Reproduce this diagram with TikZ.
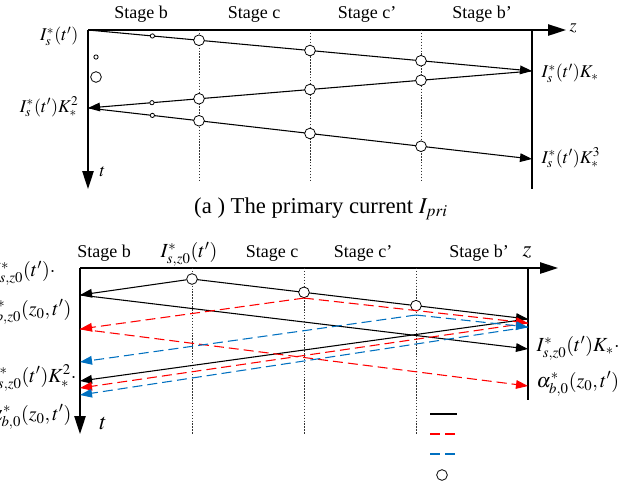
\documentclass[tikz,border=0pt]{standalone}
\usepackage{mathptmx}
\usepackage{fontspec}
\setmainfont{Liberation Serif}
\usetikzlibrary{arrows.meta,calc}
\definecolor{blauton}{RGB}{0,112,192}

\begin{document}
\begin{tikzpicture}[x=0.75pt,y=-0.75pt,
  achse/.style={line width=1.2pt,-{Triangle[length=13.5pt,width=8.5pt]}},
  welle/.style={line width=0.8pt,-{Triangle[length=9pt,width=6.5pt]}},
  rotwelle/.style={welle,red,dash pattern=on 7.5pt off 3.75pt},
  blauwelle/.style={welle,blauton,dash pattern=on 7.5pt off 3.75pt},
  grenze/.style={line width=0.7pt,black!80,dash pattern=on 1.1pt off 1.1pt},
  kreis/.style={circle,draw,fill=white,inner sep=0pt,minimum size=8pt,line width=0.6pt},
  punkt/.style={circle,draw,fill=white,inner sep=0pt,minimum size=3.2pt,line width=0.6pt},
  txt/.style={font=\fontsize{13.5}{15}\selectfont,inner sep=1pt},
  mtxt/.style={font=\fontsize{15}{17}\selectfont,inner sep=1pt},
  gross/.style={font=\fontsize{17}{19}\selectfont,inner sep=1pt}]

\useasboundingbox (0,0) rectangle (639,487);

% ------------------- Obere Abbildung -------------------
\coordinate (o1) at (88,30);
\coordinate (z1) at (566,30);
\coordinate (t1) at (88,189);
\coordinate (r1o) at (532,30);
\coordinate (r1u) at (532,189);

% Achsen
\draw[achse] (o1) -- (z1);
\draw[achse] (o1) -- (t1);
\draw[line width=1.2pt] (r1o) -- (r1u);
\node[txt,anchor=west] (zl1) at (568,28) {$z$};
\node[txt,anchor=west] (tl1) at (98,172) {$t$};

% Stufengrenzen
\foreach \x/\n in {199/1,310/2,421/3} {
  \coordinate (go\n) at (\x,30);
  \coordinate (gu\n) at (\x,180);
  \draw[grenze] (go\n) -- (gu\n);
}
\foreach \x/\s/\n in {141/b/1,254/c/2,367/c’/3,482/b’/4}
  \node[txt] (st\n) at (\x,14) {Stage \s};

% Wellen
\coordinate (p1) at (532,71);
\coordinate (q1) at (88,108);
\coordinate (p2) at (532,159);
\draw[welle] (o1) -- node[punkt,pos=.145] (k1) {} node[kreis,pos=.25] (a1) {}
  node[kreis,pos=.5] (a2) {} node[kreis,pos=.75] (a3) {} (p1);
\draw[welle] (p1) -- node[kreis,pos=.25] (a4) {} node[kreis,pos=.5] (a5) {}
  node[kreis,pos=.75] (a6) {} node[punkt,pos=.856] (k2) {} (q1);
\draw[welle] (q1) -- node[punkt,pos=.145] (k3) {} node[kreis,pos=.25] (a7) {}
  node[kreis,pos=.5] (a8) {} node[kreis,pos=.75] (a9) {} (p2);

% Zeichen links
\node[punkt] (lk1) at (96,57) {};
\node[kreis] (lk2) at (96,77) {};

% Beschriftung
\node[txt,anchor=east] (i1) at (80,36) {$I_s^*(t')$};
\node[txt,anchor=east] (i2) at (80,107) {$I_s^*(t')K_*^2$};
\node[txt,anchor=west] (i3) at (540,73) {$I_s^*(t')K_*$};
\node[txt,anchor=west] (i4) at (540,158) {$I_s^*(t')K_*^3$};

\node[font=\fontsize{17}{19}\selectfont] (titel) at (321,209)
  {(a ) The primary current $I_{pri}$};

% ------------------- Untere Abbildung -------------------
\coordinate (o2) at (80,268);
\coordinate (z2) at (558,268);
\coordinate (t2) at (80,434);
\coordinate (r2o) at (528,268);
\coordinate (r2u) at (528,400);

% Achsen
\draw[achse] (o2) -- (z2);
\draw[achse] (o2) -- (t2);
\draw[line width=1.2pt] (r2o) -- (r2u);
\node[gross] (zl2) at (527,252) {$z$};
\node[gross] (tl2) at (103,423) {$t$};

% Stufengrenzen
\foreach \x/\n in {192/1,304/2,416/3} {
  \coordinate (ho\n) at (\x,268);
  \coordinate (hu\n) at (\x,435);
  \draw[grenze] (ho\n) -- (hu\n);
}
\foreach \x/\s/\n in {104/b/1,272/c/2,363/c’/3,479/b’/4}
  \node[txt] (su\n) at (\x,253) {Stage \s};
\node[mtxt] (quelle) at (189,254) {$I^*_{s,z0}(t')$};

% Endpunkte
\coordinate (m1) at (192,279);
\coordinate (s3) at (416,315);
\foreach \y/\n in {295/1,329/2,362/3,381/4,388/5,395/6}
  \coordinate (l\n) at (80,\y);
\foreach \y/\n in {319/1,323/2,327/3,349/4,386/5}
  \coordinate (e\n) at (528,\y);

% Wellen
\draw[welle] (m1) -- node[kreis,pos=1/3] (b2) {} node[kreis,pos=2/3] (b3) {} (e1);
\node[kreis] (b1) at (m1) {};
\draw[welle] (b1) -- (l1);
\draw[welle] (l1) -- (e4);
\draw[welle] (e1) -- (l4);

\draw[rotwelle] (b2.south) -- (l2);
\draw[rotwelle] (b2.south) -- (e2);
\draw[rotwelle] (l2) -- (e5);
\draw[rotwelle] (e2) -- (l5);

\draw[blauwelle] (s3) -- (l3);
\draw[blauwelle] (s3) -- (e3);
\draw[blauwelle] (e3) -- (l6);

% Beschriftung
\node[mtxt,anchor=east] (j1) at (57,273) {$I^*_{s,z0}(t')\cdot$};
\node[mtxt,anchor=east] (j2) at (73,312) {$\alpha^*_{b,z0}(z_0,t')$};
\node[mtxt,anchor=east] (j3) at (78,378) {$I^*_{s,z0}(t')K^2_*\cdot$};
\node[mtxt,anchor=east] (j4) at (73,417) {$\alpha^*_{b,0}(z_0,t')$};
\node[mtxt,anchor=west] (j5) at (535,348) {$I^*_{s,z0}(t')K_*\cdot$};
\node[mtxt,anchor=west] (j6) at (535,384) {$\alpha^*_{b,0}(z_0,t')$};

% Legende
\coordinate (la1) at (430,414); \coordinate (lb1) at (457,414);
\coordinate (la2) at (430,434); \coordinate (lb2) at (457,434);
\coordinate (la3) at (430,454); \coordinate (lb3) at (457,454);
\draw[line width=0.8pt] (la1) -- (lb1);
\draw[line width=0.8pt,red,dash pattern=on 7.5pt off 3.75pt] (la2) -- (lb2);
\draw[line width=0.8pt,blauton,dash pattern=on 7.5pt off 3.75pt] (la3) -- (lb3);
\node[kreis] (lk3) at (442,475) {};

\end{tikzpicture}
\end{document}
